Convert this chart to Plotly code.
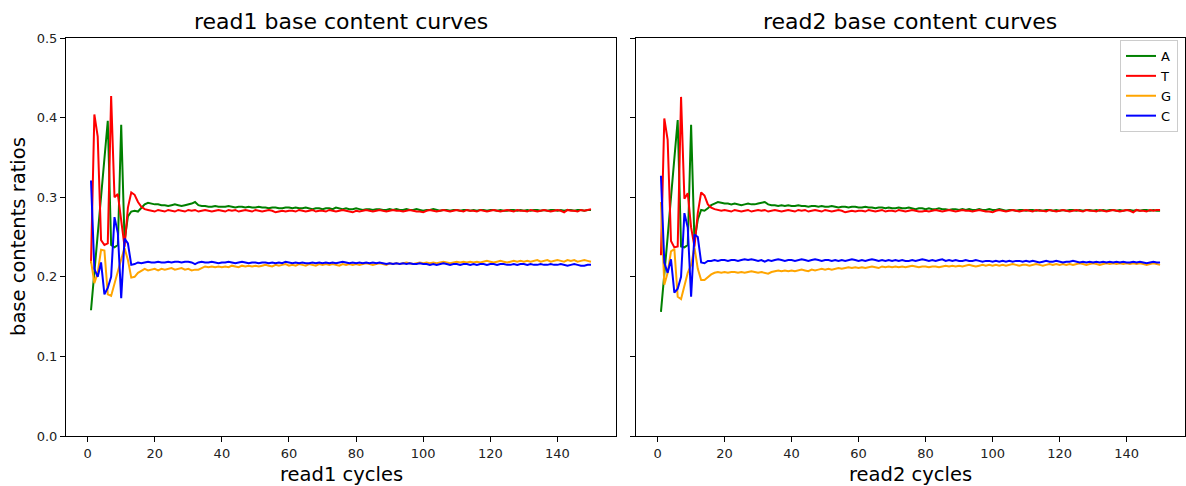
import plotly.graph_objects as go

cycles = list(range(1, 151))

r1_A = [
    0.158, 0.205, 0.255, 0.305, 0.350, 0.396, 0.240, 0.237, 0.240, 0.391,
    0.245, 0.276, 0.282, 0.283, 0.282, 0.287, 0.291, 0.293, 0.292, 0.291,
    0.291, 0.290, 0.290, 0.289, 0.290, 0.291, 0.290, 0.289, 0.290, 0.291,
    0.292, 0.294, 0.290, 0.289, 0.289, 0.288, 0.288, 0.289, 0.288, 0.288,
    0.288, 0.289, 0.288, 0.287, 0.288, 0.288, 0.287, 0.288, 0.287, 0.287,
    0.288, 0.287, 0.287, 0.286, 0.287, 0.287, 0.286, 0.286, 0.287, 0.287,
    0.286, 0.287, 0.286, 0.286, 0.287, 0.286, 0.285, 0.286, 0.286, 0.285,
    0.286, 0.286, 0.285, 0.287, 0.286, 0.285, 0.286, 0.285, 0.285, 0.286,
    0.285, 0.284, 0.285, 0.285, 0.284, 0.285, 0.285, 0.284, 0.284, 0.285,
    0.284, 0.285, 0.284, 0.284, 0.285, 0.284, 0.284, 0.285, 0.284, 0.283,
    0.284, 0.284, 0.285, 0.284, 0.283, 0.284, 0.284, 0.283, 0.284, 0.284,
    0.283, 0.284, 0.284, 0.283, 0.284, 0.283, 0.284, 0.284, 0.283, 0.284,
    0.284, 0.283, 0.284, 0.283, 0.283, 0.284, 0.284, 0.283, 0.284, 0.283,
    0.284, 0.283, 0.284, 0.284, 0.283, 0.284, 0.283, 0.284, 0.284, 0.283,
    0.284, 0.283, 0.284, 0.284, 0.283, 0.284, 0.284, 0.283, 0.284, 0.284,
]
r1_T = [
    0.217, 0.404, 0.376, 0.246, 0.240, 0.242, 0.427, 0.300, 0.304, 0.268,
    0.238, 0.287, 0.306, 0.303, 0.294, 0.288, 0.285, 0.284, 0.283, 0.282,
    0.284, 0.283, 0.282, 0.284, 0.283, 0.282, 0.284, 0.283, 0.282, 0.284,
    0.283, 0.284, 0.282, 0.283, 0.284, 0.283, 0.282, 0.283, 0.284, 0.283,
    0.282, 0.284, 0.283, 0.284, 0.282, 0.283, 0.284, 0.283, 0.282, 0.284,
    0.283, 0.282, 0.283, 0.284, 0.283, 0.281, 0.282, 0.283, 0.282, 0.283,
    0.283, 0.282, 0.284, 0.283, 0.282, 0.283, 0.284, 0.282, 0.283, 0.283,
    0.282, 0.284, 0.283, 0.282, 0.283, 0.284, 0.283, 0.282, 0.281, 0.283,
    0.282, 0.283, 0.284, 0.283, 0.282, 0.283, 0.284, 0.283, 0.282, 0.283,
    0.284, 0.283, 0.283, 0.282, 0.283, 0.284, 0.283, 0.282, 0.282, 0.281,
    0.283, 0.284, 0.283, 0.282, 0.283, 0.284, 0.283, 0.282, 0.283, 0.284,
    0.283, 0.282, 0.284, 0.283, 0.283, 0.282, 0.284, 0.283, 0.282, 0.283,
    0.284, 0.283, 0.282, 0.283, 0.284, 0.283, 0.282, 0.284, 0.283, 0.283,
    0.282, 0.284, 0.283, 0.282, 0.283, 0.284, 0.283, 0.282, 0.283, 0.284,
    0.283, 0.281, 0.284, 0.283, 0.283, 0.282, 0.284, 0.283, 0.284, 0.285,
]
r1_G = [
    0.220, 0.192, 0.205, 0.234, 0.233, 0.178, 0.176, 0.192, 0.205, 0.222,
    0.236, 0.221, 0.199, 0.200, 0.205, 0.208, 0.210, 0.208, 0.209, 0.210,
    0.208, 0.210, 0.209, 0.210, 0.211, 0.209, 0.210, 0.211, 0.209, 0.210,
    0.208, 0.209, 0.209, 0.211, 0.213, 0.212, 0.213, 0.212, 0.213, 0.212,
    0.213, 0.212, 0.214, 0.213, 0.212, 0.214, 0.213, 0.214, 0.213, 0.214,
    0.213, 0.214, 0.215, 0.214, 0.213, 0.215, 0.214, 0.215, 0.216, 0.214,
    0.215, 0.214, 0.216, 0.215, 0.214, 0.216, 0.215, 0.214, 0.216, 0.215,
    0.216, 0.215, 0.216, 0.215, 0.214, 0.216, 0.215, 0.216, 0.215, 0.216,
    0.215, 0.216, 0.217, 0.216, 0.215, 0.216, 0.217, 0.216, 0.215, 0.217,
    0.216, 0.217, 0.216, 0.217, 0.218, 0.217, 0.216, 0.217, 0.218, 0.217,
    0.218, 0.217, 0.218, 0.217, 0.218, 0.219, 0.218, 0.217, 0.218, 0.219,
    0.218, 0.219, 0.218, 0.219, 0.218, 0.219, 0.218, 0.219, 0.220, 0.219,
    0.218, 0.219, 0.220, 0.219, 0.218, 0.219, 0.220, 0.219, 0.220, 0.219,
    0.220, 0.219, 0.220, 0.221, 0.219, 0.220, 0.221, 0.219, 0.220, 0.221,
    0.220, 0.219, 0.221, 0.220, 0.221, 0.219, 0.220, 0.221, 0.220, 0.219,
]
r1_C = [
    0.321, 0.210, 0.200, 0.218, 0.178, 0.186, 0.200, 0.275, 0.255, 0.173,
    0.248, 0.242, 0.215, 0.216, 0.218, 0.217, 0.218, 0.219, 0.218, 0.218,
    0.219, 0.218, 0.218, 0.219, 0.218, 0.219, 0.219, 0.218, 0.219, 0.219,
    0.218, 0.216, 0.218, 0.219, 0.218, 0.218, 0.219, 0.218, 0.217, 0.218,
    0.218, 0.219, 0.218, 0.217, 0.218, 0.219, 0.218, 0.217, 0.218, 0.218,
    0.217, 0.218, 0.218, 0.217, 0.218, 0.217, 0.218, 0.217, 0.219, 0.218,
    0.217, 0.218, 0.217, 0.218, 0.217, 0.217, 0.218, 0.217, 0.218, 0.217,
    0.218, 0.217, 0.218, 0.217, 0.218, 0.219, 0.218, 0.217, 0.218, 0.217,
    0.218, 0.217, 0.218, 0.217, 0.218, 0.217, 0.218, 0.217, 0.216, 0.217,
    0.216, 0.217, 0.216, 0.217, 0.216, 0.217, 0.216, 0.216, 0.217, 0.216,
    0.216, 0.215, 0.216, 0.215, 0.216, 0.217, 0.216, 0.215, 0.216, 0.216,
    0.215, 0.216, 0.216, 0.215, 0.216, 0.215, 0.216, 0.216, 0.215, 0.216,
    0.216, 0.215, 0.216, 0.216, 0.215, 0.215, 0.216, 0.215, 0.216, 0.216,
    0.215, 0.216, 0.215, 0.215, 0.216, 0.215, 0.215, 0.216, 0.215, 0.215,
    0.216, 0.215, 0.214, 0.215, 0.216, 0.215, 0.214, 0.214, 0.215, 0.215,
]

r2_A = [
    0.156, 0.200, 0.250, 0.300, 0.350, 0.397, 0.238, 0.237, 0.240, 0.391,
    0.245, 0.272, 0.284, 0.283, 0.286, 0.290, 0.292, 0.294, 0.293, 0.292,
    0.292, 0.291, 0.292, 0.291, 0.290, 0.291, 0.292, 0.291, 0.291, 0.292,
    0.293, 0.294, 0.291, 0.290, 0.290, 0.289, 0.290, 0.289, 0.290, 0.289,
    0.289, 0.290, 0.289, 0.289, 0.288, 0.289, 0.289, 0.288, 0.289, 0.288,
    0.288, 0.289, 0.288, 0.287, 0.288, 0.288, 0.287, 0.288, 0.288, 0.287,
    0.287, 0.288, 0.287, 0.287, 0.286, 0.287, 0.287, 0.286, 0.287, 0.286,
    0.286, 0.287, 0.286, 0.286, 0.287, 0.286, 0.285, 0.286, 0.286, 0.285,
    0.286, 0.285, 0.285, 0.286, 0.285, 0.285, 0.284, 0.285, 0.285, 0.284,
    0.285, 0.284, 0.285, 0.284, 0.284, 0.285, 0.284, 0.284, 0.285, 0.284,
    0.284, 0.285, 0.284, 0.283, 0.284, 0.284, 0.283, 0.284, 0.284, 0.283,
    0.284, 0.284, 0.283, 0.284, 0.283, 0.284, 0.284, 0.283, 0.284, 0.283,
    0.284, 0.283, 0.284, 0.284, 0.283, 0.284, 0.283, 0.284, 0.284, 0.283,
    0.284, 0.283, 0.284, 0.283, 0.284, 0.284, 0.283, 0.284, 0.283, 0.284,
    0.284, 0.283, 0.284, 0.283, 0.284, 0.284, 0.283, 0.284, 0.283, 0.283,
]
r2_T = [
    0.227, 0.399, 0.372, 0.245, 0.237, 0.238, 0.426, 0.298, 0.305, 0.262,
    0.238, 0.280, 0.306, 0.302, 0.291, 0.287, 0.285, 0.284, 0.283, 0.284,
    0.283, 0.282, 0.284, 0.283, 0.282, 0.283, 0.284, 0.282, 0.283, 0.284,
    0.283, 0.284, 0.282, 0.283, 0.284, 0.283, 0.282, 0.283, 0.284, 0.283,
    0.282, 0.284, 0.283, 0.284, 0.282, 0.283, 0.284, 0.283, 0.282, 0.284,
    0.283, 0.282, 0.283, 0.284, 0.283, 0.281, 0.282, 0.283, 0.282, 0.283,
    0.283, 0.282, 0.284, 0.283, 0.282, 0.283, 0.284, 0.282, 0.283, 0.283,
    0.282, 0.284, 0.283, 0.282, 0.283, 0.284, 0.283, 0.282, 0.282, 0.283,
    0.282, 0.283, 0.284, 0.283, 0.282, 0.283, 0.284, 0.283, 0.282, 0.283,
    0.284, 0.283, 0.283, 0.282, 0.283, 0.284, 0.283, 0.282, 0.282, 0.281,
    0.283, 0.284, 0.283, 0.282, 0.283, 0.284, 0.283, 0.282, 0.283, 0.284,
    0.283, 0.282, 0.284, 0.283, 0.283, 0.282, 0.284, 0.283, 0.282, 0.283,
    0.284, 0.283, 0.282, 0.283, 0.284, 0.283, 0.282, 0.284, 0.283, 0.283,
    0.282, 0.284, 0.283, 0.282, 0.283, 0.284, 0.283, 0.282, 0.283, 0.284,
    0.283, 0.281, 0.284, 0.283, 0.283, 0.282, 0.284, 0.283, 0.284, 0.284,
]
r2_G = [
    0.294, 0.190, 0.205, 0.232, 0.235, 0.175, 0.172, 0.190, 0.205, 0.215,
    0.237, 0.210, 0.196, 0.196, 0.200, 0.203, 0.205, 0.206, 0.205, 0.206,
    0.205, 0.206, 0.206, 0.205, 0.206, 0.205, 0.206, 0.207, 0.206, 0.205,
    0.206, 0.205, 0.204, 0.206, 0.207, 0.208, 0.207, 0.208, 0.207, 0.208,
    0.207, 0.208, 0.209, 0.208, 0.207, 0.209, 0.208, 0.209, 0.210, 0.209,
    0.210, 0.209, 0.210, 0.211, 0.210, 0.211, 0.212, 0.211, 0.212, 0.211,
    0.212, 0.211, 0.212, 0.213, 0.212, 0.211, 0.213, 0.212, 0.213, 0.212,
    0.213, 0.212, 0.213, 0.212, 0.213, 0.214, 0.213, 0.212, 0.213, 0.213,
    0.212, 0.213, 0.213, 0.212, 0.213, 0.214, 0.213, 0.214, 0.213, 0.214,
    0.213, 0.214, 0.215, 0.214, 0.213, 0.214, 0.215, 0.214, 0.215, 0.214,
    0.215, 0.214, 0.215, 0.214, 0.215, 0.216, 0.215, 0.214, 0.215, 0.215,
    0.214, 0.215, 0.216, 0.215, 0.214, 0.215, 0.216, 0.215, 0.216, 0.215,
    0.216, 0.215, 0.216, 0.215, 0.216, 0.217, 0.216, 0.215, 0.216, 0.217,
    0.216, 0.215, 0.216, 0.217, 0.216, 0.217, 0.216, 0.217, 0.216, 0.217,
    0.216, 0.217, 0.216, 0.217, 0.216, 0.215, 0.216, 0.217, 0.216, 0.215,
]
r2_C = [
    0.327, 0.218, 0.205, 0.222, 0.180, 0.185, 0.200, 0.280, 0.262, 0.175,
    0.253, 0.250, 0.218, 0.217, 0.220, 0.220, 0.221, 0.220, 0.221, 0.221,
    0.220, 0.221, 0.221, 0.220, 0.221, 0.222, 0.221, 0.222, 0.221, 0.220,
    0.221, 0.219, 0.221, 0.220, 0.221, 0.222, 0.221, 0.220, 0.221, 0.221,
    0.220, 0.221, 0.222, 0.221, 0.220, 0.221, 0.222, 0.221, 0.220, 0.221,
    0.221, 0.220, 0.221, 0.220, 0.221, 0.220, 0.221, 0.222, 0.221, 0.220,
    0.221, 0.220, 0.221, 0.222, 0.221, 0.220, 0.221, 0.220, 0.221, 0.220,
    0.221, 0.220, 0.221, 0.220, 0.220, 0.221, 0.220, 0.221, 0.222, 0.221,
    0.220, 0.221, 0.220, 0.221, 0.222, 0.220, 0.221, 0.220, 0.221, 0.220,
    0.220, 0.221, 0.220, 0.220, 0.221, 0.220, 0.219, 0.220, 0.220, 0.219,
    0.220, 0.219, 0.220, 0.219, 0.220, 0.219, 0.220, 0.220, 0.219, 0.220,
    0.219, 0.220, 0.219, 0.218, 0.219, 0.220, 0.219, 0.219, 0.220, 0.219,
    0.218, 0.219, 0.219, 0.220, 0.219, 0.218, 0.219, 0.218, 0.219, 0.218,
    0.219, 0.218, 0.219, 0.218, 0.219, 0.218, 0.219, 0.218, 0.219, 0.218,
    0.218, 0.219, 0.218, 0.219, 0.218, 0.217, 0.218, 0.219, 0.218, 0.218,
]

bases = ["A", "T", "G", "C"]
colors = {"A": "green", "T": "red", "G": "orange", "C": "blue"}
panels = [
    ("x", "y", {"A": r1_A, "T": r1_T, "G": r1_G, "C": r1_C}),
    ("x2", "y2", {"A": r2_A, "T": r2_T, "G": r2_G, "C": r2_C}),
]
titles = ["read1 base content curves", "read2 base content curves"]
xlabels = ["read1 cycles", "read2 cycles"]
xticks = [0, 20, 40, 60, 80, 100, 120, 140]
yticks = [0.0, 0.1, 0.2, 0.3, 0.4, 0.5]

FONT = "DejaVu Sans"
fig = go.Figure()
for i, (xa, ya, data) in enumerate(panels):
    for b in bases:
        fig.add_trace(go.Scatter(
            x=cycles, y=data[b], mode="lines", name=b,
            line=dict(color=colors[b], width=2),
            xaxis=xa, yaxis=ya, showlegend=(i == 1),
        ))

W, H = 1186, 486
ml, mr, mt, mb = 66, 1, 38, 50
pw = W - ml - mr
d1 = [0, (616 - ml) / pw]
d2 = [(636 - ml) / pw, 1]

axis_common = dict(
    showline=True, linecolor="black", linewidth=1, mirror=True,
    ticks="outside", ticklen=5, tickcolor="black", tickwidth=1,
    showgrid=False, zeroline=False,
    tickfont=dict(family=FONT, size=13, color="#222"),
)

fig.update_layout(
    width=W, height=H,
    margin=dict(l=ml, r=mr, t=mt, b=mb),
    paper_bgcolor="white", plot_bgcolor="white",
    font=dict(family=FONT, color="black"),
    xaxis=dict(domain=d1, range=[-6.45, 157.45], tickvals=xticks, anchor="y", **axis_common),
    xaxis2=dict(domain=d2, range=[-6.45, 157.45], tickvals=xticks, anchor="y2", **axis_common),
    yaxis=dict(domain=[0, 1], range=[0, 0.5], tickvals=yticks, tickformat=".1f", anchor="x", **axis_common),
    yaxis2=dict(domain=[0, 1], range=[0, 0.5], tickvals=yticks, showticklabels=False, anchor="x2", **axis_common),
    legend=dict(
        x=1 - 7 / pw, xanchor="right", y=1 - 2 / 398, yanchor="top",
        bgcolor="white", bordercolor="#cccccc", borderwidth=1,
        font=dict(family=FONT, size=13, color="black"),
        itemwidth=30, tracegroupgap=0,
    ),
    showlegend=True,
)

annos = []
for d, t, xl in zip([d1, d2], titles, xlabels):
    cx = (d[0] + d[1]) / 2
    annos.append(dict(text=t, x=cx, y=1, xref="paper", yref="paper",
                      xanchor="center", yanchor="bottom", yshift=2, showarrow=False,
                      font=dict(family=FONT, size=22, color="black")))
    annos.append(dict(text=xl, x=cx, y=0, xref="paper", yref="paper",
                      xanchor="center", yanchor="top", yshift=-25, showarrow=False,
                      font=dict(family=FONT, size=19.5, color="black")))
annos.append(dict(text="base contents ratios", x=0, y=0.5, xref="paper", yref="paper",
                  xanchor="center", yanchor="middle", xshift=-48, textangle=-90, showarrow=False,
                  font=dict(family=FONT, size=19.5, color="black")))
fig.update_layout(annotations=annos)

fig.write_html("out.html")
